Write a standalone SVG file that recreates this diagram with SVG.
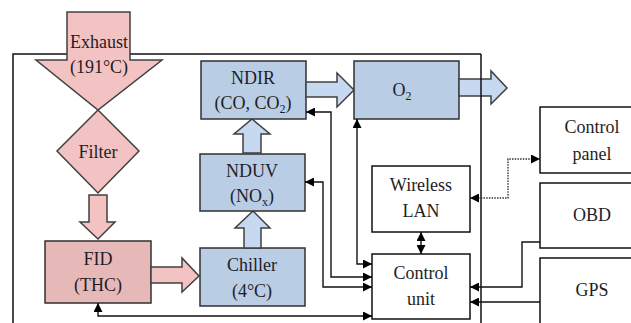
<svg xmlns="http://www.w3.org/2000/svg" width="631" height="323" viewBox="0 0 631 323" font-family="'Liberation Serif', 'DejaVu Serif', serif">
<style>
.t{font-family:"Liberation Serif","DejaVu Serif",serif;font-size:18px;fill:#1e1e28;text-anchor:middle}
.pink{fill:#f3c3c3;stroke:#404040;stroke-width:1.5}
.fid{fill:#e6b9b8;stroke:#303030;stroke-width:1.5}
.bbox{fill:#b9cde5;stroke:#303030;stroke-width:1.5}
.barr{fill:#c6d9f1;stroke:#404040;stroke-width:1.5}
.wbox{fill:#fff;stroke:#111;stroke-width:1.5}
.frame{fill:none;stroke:#111;stroke-width:1.5}
.c{fill:none;stroke:#111;stroke-width:1.4}
.d{fill:none;stroke:#333;stroke-width:1.4;stroke-dasharray:1.5 1.2}
</style>
<defs>
<marker id="ah" markerUnits="userSpaceOnUse" markerWidth="9" markerHeight="9" refX="9" refY="4.5" orient="auto-start-reverse" viewBox="0 0 9 9">
<path d="M0,0 L9,4.5 L0,9 z" fill="#000"/>
</marker>
</defs>
<rect width="631" height="323" fill="#fff"/>
<g id="frame">
<path class="frame" d="M13,323 V54 H481"/>
</g>
<g id="exhaust">
<polygon class="pink" points="67,12 130,12 130,60 162,60 98,110 36,60 67,60"/>
<text class="t" x="99" y="48">Exhaust</text>
<text class="t" x="99" y="73">(191°C)</text>
</g>
<g id="filter">
<polygon class="pink" points="98,110 139,151 98,193 57,151"/>
<text class="t" x="98" y="158">Filter</text>
</g>
<g id="arrow-filter-fid">
<polygon class="pink" points="89,195 107,195 107,222 115,222 98,239 80,222 89,222"/>
</g>
<g id="fid">
<rect class="fid" x="45" y="241" width="106" height="62"/>
<text class="t" x="98" y="265">FID</text>
<text class="t" x="98" y="291">(THC)</text>
</g>
<g id="arrow-fid-chiller">
<polygon class="pink" points="151,267 182,267 182,258 199,276 182,292 182,283 151,283"/>
</g>
<g id="chiller">
<rect class="bbox" x="200" y="248" width="105" height="58"/>
<text class="t" x="252" y="271">Chiller</text>
<text class="t" x="252" y="297">(4°C)</text>
</g>
<g id="arrow-chiller-nduv">
<polygon class="barr" points="244,248 244,228 235,228 253,211 270,228 261,228 261,248"/>
</g>
<g id="nduv">
<rect class="bbox" x="200" y="154" width="105" height="57"/>
<text class="t" x="252" y="177">NDUV</text>
<text class="t" x="252" y="202">(NO<tspan font-size="12" dy="4">x</tspan><tspan dy="-4">)</tspan></text>
</g>
<g id="arrow-nduv-ndir">
<polygon class="barr" points="243,153 243,134 234,134 252,119 270,134 261,134 261,153"/>
</g>
<g id="ndir">
<rect class="bbox" x="201" y="61" width="105" height="58"/>
<text class="t" x="253" y="84">NDIR</text>
<text class="t" x="253" y="109">(CO, CO<tspan font-size="12" dy="4">2</tspan><tspan dy="-4">)</tspan></text>
</g>
<g id="arrow-ndir-o2">
<polygon class="barr" points="306,82 337,82 337,73 354,90 337,107 337,97 306,97"/>
</g>
<g id="o2">
<rect class="bbox" x="354" y="61" width="105" height="58"/>
<text class="t" x="402" y="96">O<tspan font-size="12" dy="4">2</tspan></text>
</g>
<g id="arrow-o2-out">
<polygon class="barr" points="459,79 491,79 491,71 507,88 491,104 491,96 459,96"/>
</g>
<g id="frame-right">
<path class="frame" d="M481,54 V323"/>
</g>
<g id="wireless">
<rect class="wbox" x="372" y="166" width="98" height="66"/>
<text class="t" x="421" y="191">Wireless</text>
<text class="t" x="421" y="217">LAN</text>
</g>
<g id="control-unit">
<rect class="wbox" x="372" y="254" width="98" height="65"/>
<text class="t" x="421" y="279">Control</text>
<text class="t" x="421" y="305">unit</text>
</g>
<g id="control-panel">
<rect class="wbox" x="540" y="107" width="100" height="66"/>
<text class="t" x="592" y="133">Control</text>
<text class="t" x="592" y="160">panel</text>
</g>
<g id="obd">
<rect class="wbox" x="540" y="183" width="100" height="65"/>
<text class="t" x="592" y="221">OBD</text>
</g>
<g id="gps">
<rect class="wbox" x="540" y="258" width="100" height="70"/>
<text class="t" x="592" y="296">GPS</text>
</g>
<g id="connectors">
<path class="c" d="M357,119 V264 H372" marker-start="url(#ah)" marker-end="url(#ah)"/>
<path class="c" d="M306,112 H331 V277 H372" marker-start="url(#ah)" marker-end="url(#ah)"/>
<path class="c" d="M305,182 H323 V287 H372" marker-start="url(#ah)" marker-end="url(#ah)"/>
<path class="c" d="M98,303 V316 H372" marker-start="url(#ah)" marker-end="url(#ah)"/>
<path class="c" d="M421,232 V254" marker-start="url(#ah)" marker-end="url(#ah)"/>
<path class="d" d="M470,198 H508 V159 H540" marker-start="url(#ah)" marker-end="url(#ah)"/>
<path class="c" d="M540,242 H522 V287 H470" marker-end="url(#ah)"/>
<path class="c" d="M540,302 H470" marker-end="url(#ah)"/>
</g>
</svg>
